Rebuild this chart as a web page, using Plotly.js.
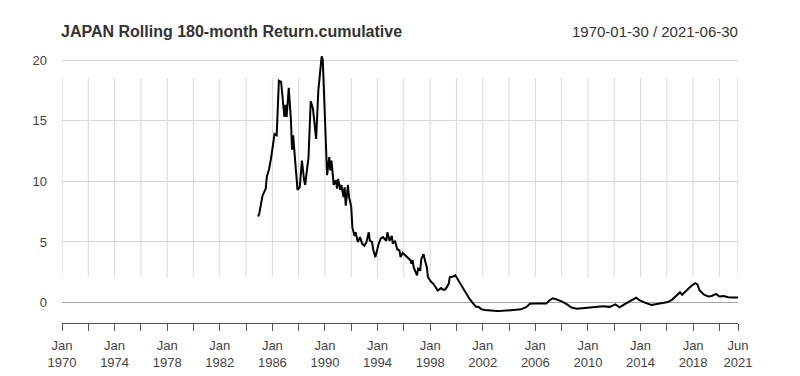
<!DOCTYPE html>
<html>
<head>
<meta charset="utf-8">
<script src="https://cdn.plot.ly/plotly-3.0.1.min.js"></script>
<style>html,body{margin:0;padding:0;background:#fff;}#chart{width:800px;height:376px;}</style>
</head>
<body>
<div id="chart"></div>
<script>
const chartTitle = "JAPAN Rolling 180-month Return.cumulative";
const dateRangeLabel = "1970-01-30 / 2021-06-30";

const months = [
"1984-12","1985-01","1985-04","1985-07","1985-08","1985-10","1985-12","1986-03","1986-05","1986-07",
"1986-09","1986-11","1986-12","1987-01","1987-02","1987-04","1987-06","1987-07","1987-08","1987-10",
"1987-12","1988-02","1988-04","1988-06","1988-07","1988-10","1988-12","1989-02","1989-05","1989-07",
"1989-10","1989-11","1990-01","1990-03","1990-05","1990-06","1990-07","1990-09","1990-11","1990-12",
"1991-01","1991-03","1991-04","1991-06","1991-07","1991-08","1991-10","1991-11","1992-01","1992-02",
"1992-04","1992-05","1992-07","1992-09","1992-11","1993-01","1993-03","1993-05","1993-06","1993-08",
"1993-09","1993-11","1994-02","1994-04","1994-06","1994-09","1994-10","1994-12","1995-02","1995-03",
"1995-05","1995-07","1995-09","1995-10","1995-12","1996-04","1996-07","1996-08","1996-09","1996-10",
"1997-01","1997-02","1997-04","1997-05","1997-07","1997-08","1997-10","1997-11","1998-01","1998-02",
"1998-04","1998-06","1998-08","1998-11","1999-01","1999-03","1999-06","1999-07","1999-10","1999-12",
"2000-02","2000-04","2000-07","2000-10","2001-01","2001-04","2001-07","2001-09","2001-12","2002-03",
"2002-08","2003-02","2003-07","2004-02","2004-08","2004-12","2005-05","2005-08","2006-01","2006-07",
"2006-11","2007-02","2007-05","2007-08","2008-01","2008-06","2008-10","2009-03","2009-09","2010-03",
"2010-09","2011-03","2011-09","2012-02","2012-06","2012-11","2013-03","2013-09","2013-12","2014-05",
"2014-11","2015-04","2015-10","2016-02","2016-06","2016-10","2017-01","2017-03","2017-07","2017-11",
"2018-03","2018-05","2018-07","2018-11","2019-03","2019-06","2019-10","2020-01","2020-05","2020-09",
"2021-01","2021-05","2021-06"
];

const cumulativeReturn = [
7.1,7.3,8.8,9.4,10.4,11.0,12.0,13.9,13.8,18.3,
18.2,16.1,15.3,16.3,15.3,17.7,15.0,12.6,13.8,11.5,
9.3,9.5,11.7,10.1,9.7,12.0,16.6,16.0,13.5,17.5,
20.3,20.0,15.3,10.5,12.0,10.9,11.7,9.7,10.1,9.4,
10.2,9.3,9.7,8.7,9.5,8.0,9.7,8.7,7.9,6.2,
5.5,5.8,5.0,5.4,4.85,4.7,5.0,5.8,5.1,5.0,
4.4,3.75,4.85,5.3,5.4,5.1,5.8,5.1,5.5,4.85,
5.1,4.4,4.3,3.75,4.1,3.75,3.5,3.2,3.5,2.9,
2.25,2.8,2.7,3.6,4.0,3.6,2.9,2.1,1.8,1.7,
1.55,1.25,1.0,1.2,1.05,1.1,1.55,2.1,2.15,2.25,
1.95,1.7,1.25,0.7,0.3,-0.05,-0.35,-0.35,-0.55,-0.6,
-0.65,-0.7,-0.68,-0.65,-0.62,-0.55,-0.35,-0.1,-0.08,-0.08,
-0.08,0.2,0.35,0.28,0.1,-0.15,-0.4,-0.5,-0.45,-0.42,
-0.38,-0.3,-0.35,-0.15,-0.38,-0.15,0.1,0.4,0.2,0.0,
-0.2,-0.12,-0.02,0.05,0.25,0.6,0.85,0.65,1.0,1.35,
1.6,1.5,1.0,0.65,0.5,0.55,0.72,0.5,0.55,0.45,
0.42,0.4,0.42
];

const xTickVals = ["1970-01","1972-01","1974-01","1976-01","1978-01","1980-01","1982-01","1984-01","1986-01",
  "1988-01","1990-01","1992-01","1994-01","1996-01","1998-01","2000-01","2002-01","2004-01","2006-01",
  "2008-01","2010-01","2012-01","2014-01","2016-01","2018-01","2020-01","2021-06"];
const xTickText = ["Jan<br>1970","","Jan<br>1974","","Jan<br>1978","","Jan<br>1982","","Jan<br>1986",
  "","Jan<br>1990","","Jan<br>1994","","Jan<br>1998","","Jan<br>2002","","Jan<br>2006",
  "","Jan<br>2010","","Jan<br>2014","","Jan<br>2018","","Jun<br>2021"];
const yTickVals = [0,5,10,15,20];

const xRange = ["1970-01","2021-06"];
const yRange = [-1.68, 20.99];

const vgrid = xTickVals.map(d => ({
  type: "line", xref: "x", yref: "y", x0: d, x1: d, y0: 2.1, y1: 18.5,
  line: {color: "#d9d9d9", width: 1}, layer: "below"
}));

const trace = {
  x: months, y: cumulativeReturn, type: "scatter", mode: "lines",
  line: {color: "#000000", width: 2}, hoverinfo: "skip"
};

const layout = {
  width: 800, height: 376,
  margin: {l: 62, r: 62, t: 48, b: 53},
  paper_bgcolor: "#ffffff", plot_bgcolor: "#ffffff",
  showlegend: false,
  font: {family: "Liberation Sans, Arial, sans-serif", color: "#444"},
  xaxis: {
    type: "date", range: xRange, showgrid: false, zeroline: false,
    tickmode: "array", tickvals: xTickVals, ticktext: xTickText,
    ticks: "outside", ticklen: 7, tickwidth: 1, tickcolor: "#555",
    showline: true, linecolor: "#555", linewidth: 1, ticklabelstandoff: 3,
    tickfont: {size: 13, color: "#444"}, tickangle: 0
  },
  yaxis: {
    range: yRange, tickmode: "array", tickvals: yTickVals,
    showgrid: true, gridcolor: "#d9d9d9", gridwidth: 1,
    zeroline: true, zerolinecolor: "#a6a6a6", zerolinewidth: 1,
    ticks: "", showline: false, ticklabelstandoff: 14,
    tickfont: {size: 13, color: "#444"}
  },
  shapes: vgrid,
  annotations: [
    {text: "<b>" + chartTitle + "</b>", xref: "paper", yref: "paper", x: 0, y: 1 + 17/275,
     xanchor: "left", yanchor: "middle", showarrow: false, xshift: -3,
     font: {size: 16, color: "#333", family: "Liberation Sans, Arial, sans-serif"}},
    {text: dateRangeLabel, xref: "paper", yref: "paper", x: 1, y: 1 + 17/275,
     xanchor: "right", yanchor: "middle", showarrow: false, xshift: 2,
     font: {size: 15, color: "#333", family: "Liberation Sans, Arial, sans-serif"}}
  ]
};

Plotly.newPlot("chart", [trace], layout, {displayModeBar: false, staticPlot: true});
</script>
</body>
</html>
